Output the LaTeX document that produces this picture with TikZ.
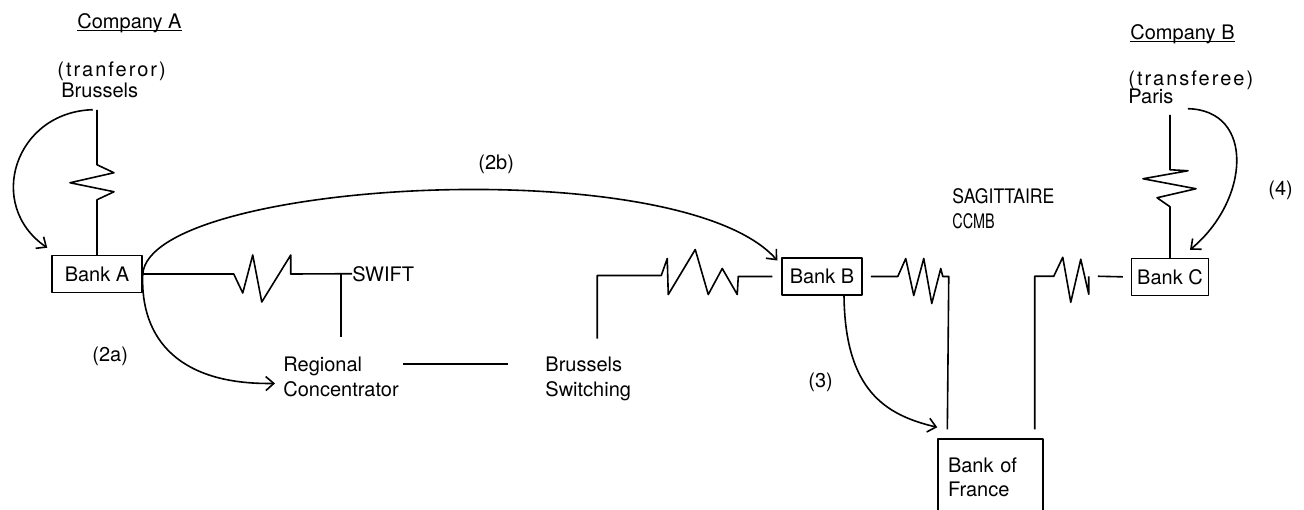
\documentclass[tikz,border=0pt]{standalone}
\usepackage{fontspec}
\setmainfont{TeX Gyre Heros}
\usetikzlibrary{positioning,arrows.meta}
\tikzset{
  bank/.style={draw,line width=0.75pt,inner sep=0pt,minimum height=18.5pt},
  link/.style={line width=0.8pt},
  flow/.style={line width=0.8pt,-{Straight Barb[length=4pt,width=7pt]}},
  lbl/.style={inner sep=0pt,anchor=base west},
  wide/.style={font=\fontsize{10}{12.5}\selectfont\addfontfeature{LetterSpace=10}},
}
\newcommand{\ulname}[1]{\underline{\raisebox{0pt}[\height][0pt]{#1}}}

\begin{document}
\begin{tikzpicture}[x=0.5pt,y=-0.5pt,line join=round,font=\fontsize{10}{12.5}\selectfont]
  \useasboundingbox (0,0) rectangle (1304,509);
  % company A (transferor)
  \node[lbl] (compA) at (77,28) {\ulname{Company A}};
  \node[lbl,wide] (trA) at (57,76) {(tranferor)};
  \node[lbl] (bruA) at (61,97) {Brussels};
  % company B (transferee)
  \node[lbl] (compB) at (1130,39) {\ulname{Company B}};
  \node[lbl,wide] (trB) at (1128,85) {(transferee)};
  \node[lbl] (parB) at (1128,103) {Paris};
  % banks
  \node[bank,minimum width=45pt] (bankA) at (97,274) {Bank A};
  \node[bank,minimum width=40pt] (bankB) at (822,276.5) {Bank B};
  \node[bank,minimum width=38.5pt] (bankC) at (1170,277) {Bank C};
  \node[bank,align=left,text width=42.5pt,inner xsep=5pt,minimum height=38.7pt,
        font=\fontsize{10}{12}\selectfont] (bof) at (990.5,477.7) {Bank of\\France};
  % networks
  \node[lbl] (swift) at (352,281) {SWIFT};
  \node[lbl,align=left] (regc) at (283,396) {Regional\\Concentrator};
  \node[lbl,align=left] (bsw) at (545,396) {Brussels\\Switching};
  \node[lbl,align=left] (sag) at (952,228) {\scalebox{0.88}[1]{SAGITTAIRE}\\\scalebox{0.72}[1]{CCMB}};
  % steps
  \node[lbl] (s2a) at (92,361) {(2a)};
  \node[lbl] (s2b) at (478,169) {(2b)};
  \node[lbl] (s3) at (808,387) {(3)};
  \node[lbl] (s4) at (1268,195) {(4)};

  % lines (zigzag = link)
  \draw[link] (bankA.north) -- ++(0,-55) -- ++(17,-8) -- ++(-44,-9) -- ++(44,-10) -- ++(-17,-8) -- ++(0,-55);
  \draw[link] (bankA.east) -- ++(91,0) -- ++(9,19) -- ++(10,-38) -- ++(9,47) -- ++(29,-47) -- ++(0,19) -- (swift.west);
  \draw[link] ([shift={(-11,0)}]swift.west) -- ++(0,63);
  \draw[link] ([shift={(4,8)}]regc.north east) -- ([shift={(-37,8)}]bsw.north west);
  \draw[link,shorten <=4.5pt] (bankB.west) -- ++(-43,0) -- ++(-1,18) -- ++(-15,-26) -- ++(-14,26) -- ++(-13,-45)
    -- ++(-27,45) -- ++(-1,-36) -- ++(-6,17) -- ++(-64,0) -- ++(0,63);
  \draw[link,shorten <=4pt,shorten >=4.5pt] (bankB.east) -- ++(35,0) -- ++(8,-18) -- ++(8,37) -- ++(10,-37)
    -- ++(8,45) -- ++(9,-35) -- ++(2,8) -- ++(6,0) -- ([shift={(10,0)}]bof.north west);
  \draw[link,shorten <=4.5pt] ([shift={(-9,0)}]bof.north east) -- ++(0,-162) -- ++(19,0) -- ++(9,-19)
    -- ++(8,45) -- ++(10,-43) -- ++(8,35) -- ++(0,-18) coordinate (bcz);
  \draw[link,shorten >=4pt] ([shift={(9,0)}]bcz) -- (bankC.west);
  \draw[link] (bankC.north) -- ++(0,-51) -- ++(-13,-9) -- ++(39,-9) -- ++(-53,-10) -- ++(45,-8) -- ++(-18,-1) -- ++(0,-55);

  % flows
  \draw[flow] ([shift={(-7,12)}]bruA.south) .. controls (15,112) and (-15,205) .. ([shift={(-4,-7)}]bankA.north west);
  \draw[flow] (bankA.east) .. controls (140,340) and (180,385) .. ([shift={(-8,7)}]regc.west);
  \draw[flow] (bankA.east) .. controls (150,180) and (680,150) .. ([shift={(-4,-16)}]bankB.west);
  \draw[flow] ([shift={(22,0)}]bankB.south) .. controls (845,390) and (885,415) .. ([shift={(0,-11)}]bof.north west);
  \draw[flow] ([shift={(14,5)}]parB.south east) .. controls (1255,110) and (1250,200) .. ([shift={(20,-8)}]bankC.north);
\end{tikzpicture}
\end{document}
